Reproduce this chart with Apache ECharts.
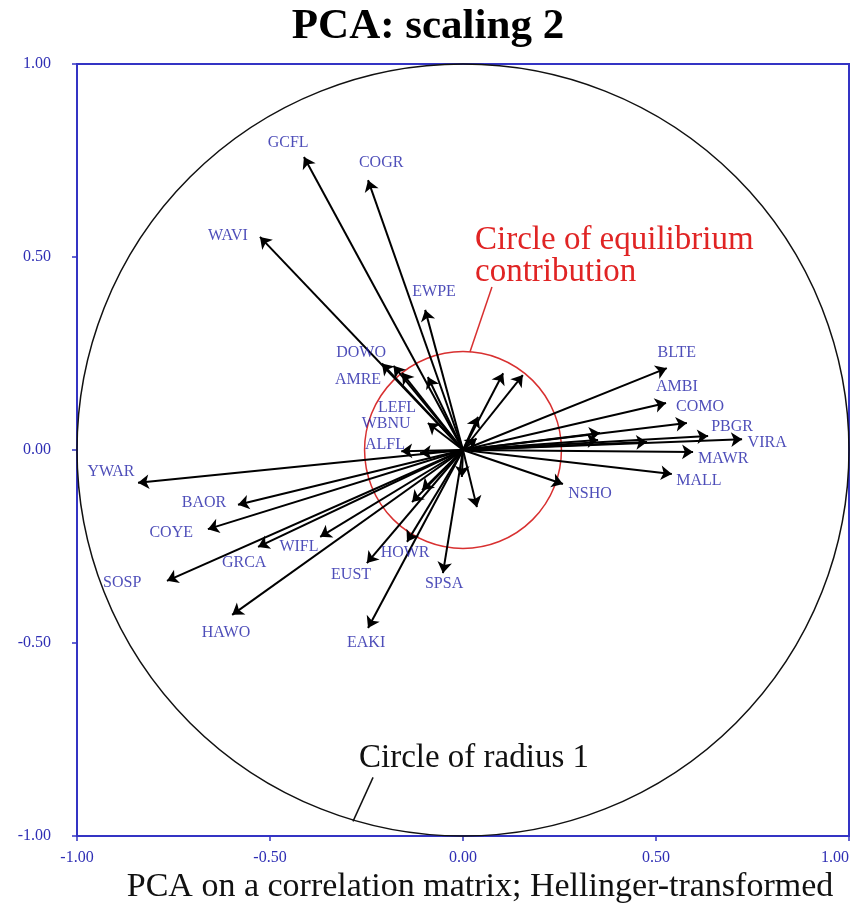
<!DOCTYPE html>
<html>
<head>
<meta charset="utf-8">
<script src="https://cdn.jsdelivr.net/npm/echarts@6/dist/echarts.min.js"></script>
<style>
  html, body { margin: 0; padding: 0; background: #fff; }
  #chart { width: 854px; height: 907px; }
</style>
</head>
<body>
<div id="chart"></div>
<script>
// Species loadings (PC1, PC2), scaling 2
const speciesNames = ['GCFL','COGR','WAVI','EWPE','DOWO','AMRE','LEFL','WBNU','ALFL',
  'BLTE','AMBI','COMO','PBGR','VIRA','MAWR','MALL','NSHO',
  'YWAR','BAOR','COYE','GRCA','WIFL','SOSP','HAWO','EUST','HOWR','SPSA','EAKI',
  'sp29','sp30','sp31','sp32','sp33','sp34','sp35','sp36','sp37','sp38','sp39','sp40','sp41'];
const pc1 = [-0.412,-0.246,-0.526,-0.098,-0.210,-0.158,-0.091,-0.091,-0.111,
  0.528,0.526,0.580,0.635,0.723,0.596,0.541,0.259,
  -0.842,-0.583,-0.661,-0.531,-0.370,-0.767,-0.598,-0.249,-0.145,-0.052,-0.246,
  -0.180,0.104,0.155,0.039,0.035,0.355,0.350,0.477,-0.003,0.036,-0.132,-0.106,-0.160];
const pc2 = [0.759,0.699,0.552,0.363,0.224,0.200,0.189,0.070,-0.008,
  0.212,0.122,0.070,0.036,0.028,-0.005,-0.062,-0.088,
  -0.085,-0.142,-0.205,-0.251,-0.225,-0.339,-0.427,-0.293,-0.238,-0.319,-0.461,
  0.218,0.199,0.194,0.086,0.030,0.044,0.026,0.021,-0.070,-0.148,-0.135,-0.104,-0.003];

// Label anchor positions (data units)
const labelNames = ['GCFL','COGR','WAVI','EWPE','DOWO','AMRE','LEFL','WBNU','ALFL',
  'BLTE','AMBI','COMO','PBGR','VIRA','MAWR','MALL','NSHO',
  'YWAR','BAOR','COYE','GRCA','WIFL','SOSP','HAWO','EUST','HOWR','SPSA','EAKI'];
const labelX = [-0.453,-0.212,-0.609,-0.075,-0.264,-0.272,-0.171,-0.199,-0.202,
  0.554,0.554,0.614,0.697,0.788,0.674,0.611,0.329,
  -0.912,-0.671,-0.756,-0.567,-0.425,-0.883,-0.614,-0.290,-0.150,-0.049,-0.251];
const labelY = [0.795,0.744,0.554,0.409,0.251,0.181,0.109,0.067,0.013,
  0.251,0.163,0.111,0.060,0.018,-0.023,-0.080,-0.114,
  -0.057,-0.137,-0.215,-0.293,-0.251,-0.345,-0.474,-0.324,-0.267,-0.347,-0.500];

// Axis ticks
const tickValues = [-1, -0.5, 0, 0.5, 1];

// Reference circles
const radiusOne = 1;
const radiusEquilibrium = 0.255;

// Callout lines for the circle annotations
const calloutRed = [[0.018, 0.254], [0.075, 0.422]];
const calloutBlack = [[-0.285, -0.962], [-0.233, -0.848]];

const axisBlue = '#3434c4';
const tickLabelBlue = '#2e2eb4';
const speciesBlue = '#2222a8';
const serif = '"Liberation Serif", "DejaVu Serif", serif';

const arrows = pc1.map((x, i) => ({ name: speciesNames[i], coords: [[0, 0], [x, pc2[i]]] }));
const labels = labelNames.map((n, i) => ({ name: n, value: [labelX[i], labelY[i]] }));

function circleSeries(r, color, width) {
  return {
    type: 'custom',
    silent: true,
    clip: false,
    data: [[0, 0]],
    renderItem: (params, api) => {
      const c = api.coord([0, 0]);
      const rad = api.size([r, 0])[0];
      return {
        type: 'circle',
        shape: { cx: c[0], cy: c[1], r: rad },
        style: { fill: 'none', stroke: color, lineWidth: width }
      };
    },
    z: 1
  };
}

const chart = echarts.init(document.getElementById('chart'), null, { renderer: 'canvas' });

const axisCommon = {
  type: 'value',
  min: -1,
  max: 1,
  interval: 0.5,
  axisLine: { show: true, onZero: false, lineStyle: { color: axisBlue, width: 2 } },
  axisTick: { show: true, inside: false, length: 5, lineStyle: { color: axisBlue, width: 1.5 } },
  splitLine: { show: false },
  axisLabel: {
    color: tickLabelBlue,
    fontFamily: serif,
    fontSize: 16,
    formatter: v => tickValues.includes(v) ? v.toFixed(2) : ''
  }
};

chart.setOption({
  animation: false,
  backgroundColor: '#fff',
  grid: {
    left: 77, right: 5, top: 64, bottom: 71,
    show: true, borderColor: axisBlue, borderWidth: 2
  },
  xAxis: Object.assign({}, axisCommon, {
    axisLabel: Object.assign({}, axisCommon.axisLabel, { margin: 14, alignMaxLabel: 'right' })
  }),
  yAxis: Object.assign({}, axisCommon, {
    axisLabel: Object.assign({}, axisCommon.axisLabel, { margin: 26 })
  }),
  graphic: [
    {
      type: 'text', x: 428, y: 27,
      style: { text: 'PCA: scaling 2', font: 'bold 43px ' + serif, fill: '#000',
        textAlign: 'center', textVerticalAlign: 'middle' }
    },
    {
      type: 'text', x: 480, y: 887,
      style: { text: 'PCA on a correlation matrix; Hellinger-transformed', font: '34px ' + serif,
        fill: '#111', textAlign: 'center', textVerticalAlign: 'middle' }
    },
    {
      type: 'text', x: 475, y: 256,
      style: { text: 'Circle of equilibrium\ncontribution', font: '33px ' + serif, fill: '#e02424',
        textAlign: 'left', textVerticalAlign: 'middle', lineHeight: 32 }
    },
    {
      type: 'text', x: 474, y: 758,
      style: { text: 'Circle of radius 1', font: '33px ' + serif, fill: '#111',
        textAlign: 'center', textVerticalAlign: 'middle' }
    }
  ],
  series: [
    circleSeries(radiusOne, '#111', 1.5),
    circleSeries(radiusEquilibrium, '#d83030', 1.5),
    {
      type: 'lines',
      coordinateSystem: 'cartesian2d',
      silent: true,
      symbol: ['none', 'none'],
      data: [
        { coords: calloutRed, lineStyle: { color: '#d83030' } },
        { coords: calloutBlack, lineStyle: { color: '#111' } }
      ],
      lineStyle: { width: 1.5, opacity: 1 },
      z: 2
    },
    {
      type: 'lines',
      coordinateSystem: 'cartesian2d',
      silent: true,
      symbol: ['none', 'arrow'],
      symbolSize: 11,
      data: arrows,
      lineStyle: { color: '#000', width: 2, opacity: 1 },
      z: 3
    },
    {
      type: 'scatter',
      silent: true,
      symbolSize: 0,
      data: labels,
      label: {
        show: true,
        position: 'inside',
        formatter: p => p.name,
        color: speciesBlue,
        fontFamily: serif,
        fontSize: 16
      },
      z: 4
    }
  ]
});
</script>
</body>
</html>
